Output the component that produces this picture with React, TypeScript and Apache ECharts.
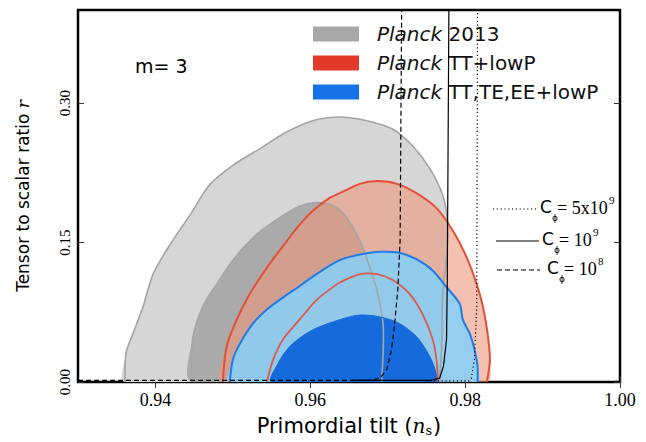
import React, { useEffect, useRef } from 'react';
import * as echarts from 'echarts';

// ---------- data ----------
const xTickValues = [0.94, 0.96, 0.98, 1.0];
const yTickValues = [0, 0.15, 0.3];
const legendNames = ['Planck 2013', 'Planck TT+lowP', 'Planck TT,TE,EE+lowP'];
const legendColors = ['#a7a7a7', '#e2392a', '#1673ea'];

// contours: [n_s, r]
const planck2013Outer = [
  [0.9361, 0], [0.9362, 0.031], [0.9371, 0.052], [0.9384, 0.081], [0.9397, 0.116], [0.9419, 0.148],
  [0.9445, 0.18], [0.947, 0.212], [0.95, 0.233], [0.9535, 0.251], [0.957, 0.269], [0.9603, 0.281],
  [0.9638, 0.285], [0.9673, 0.281], [0.9706, 0.272], [0.9732, 0.254], [0.9754, 0.23], [0.9771, 0.201],
  [0.9777, 0.173], [0.9776, 0.134], [0.9771, 0.095], [0.977, 0.046], [0.9767, 0],
];
const planck2013Inner = [
  [0.9447, 0], [0.9448, 0.046], [0.9461, 0.081], [0.9479, 0.105], [0.95, 0.131], [0.9531, 0.159],
  [0.9561, 0.177], [0.9586, 0.189], [0.9608, 0.193], [0.9629, 0.19], [0.9647, 0.177], [0.9664, 0.152],
  [0.9677, 0.123], [0.9687, 0.095], [0.9694, 0.063], [0.9694, 0.031], [0.9692, 0],
];
const ttOuter = [
  [0.9487, 0], [0.9492, 0.038], [0.9505, 0.067], [0.9522, 0.095], [0.9544, 0.123], [0.957, 0.152],
  [0.9586, 0.169], [0.9603, 0.184], [0.9625, 0.198], [0.9638, 0.203], [0.9664, 0.213], [0.9686, 0.216],
  [0.9712, 0.213], [0.9737, 0.203], [0.9763, 0.187], [0.9784, 0.163], [0.9802, 0.134], [0.9815, 0.105],
  [0.9823, 0.081], [0.9829, 0.052], [0.9832, 0.024], [0.9828, 0],
];
const ttInner = [
  [0.9544, 0], [0.9552, 0.024], [0.9565, 0.046], [0.9586, 0.067], [0.9608, 0.088], [0.9629, 0.102],
  [0.9638, 0.107], [0.9664, 0.116], [0.9686, 0.116], [0.9706, 0.11], [0.9728, 0.095], [0.9745, 0.073],
  [0.9758, 0.046], [0.9763, 0.024], [0.9765, 0],
];
const allOuter = [
  [0.9496, 0], [0.95, 0.024], [0.9509, 0.041], [0.9526, 0.063], [0.9544, 0.078], [0.9565, 0.091],
  [0.9586, 0.103], [0.9608, 0.116], [0.9638, 0.131], [0.9664, 0.137], [0.969, 0.14], [0.9715, 0.139],
  [0.9737, 0.132], [0.9758, 0.12], [0.9776, 0.102], [0.9793, 0.084], [0.9797, 0.067], [0.9806, 0.052],
  [0.9812, 0.035], [0.9816, 0.017], [0.9816, 0],
];
const allInner = [
  [0.955, 0], [0.9561, 0.024], [0.9577, 0.041], [0.9603, 0.056], [0.9638, 0.067], [0.9664, 0.072],
  [0.969, 0.07], [0.9715, 0.063], [0.9737, 0.049], [0.9752, 0.031], [0.9761, 0.014], [0.9763, 0],
];

// model curves
const cphi1e8 = [
  [0.93, 0.0018], [0.9675, 0.0018], [0.969, 0.004], [0.9699, 0.014], [0.9705, 0.035], [0.9709, 0.063],
  [0.9713, 0.099], [0.9716, 0.152], [0.9718, 0.4],
];
const cphi1e9 = [
  [0.9655, 0.0018], [0.9755, 0.0018], [0.9767, 0.004], [0.9772, 0.017], [0.9776, 0.046], [0.9777, 0.116],
  [0.9779, 0.4],
];
const cphi5e9 = [
  [0.975, 0.0012], [0.9805, 0.0012], [0.9808, 0.004], [0.9812, 0.024], [0.9815, 0.081], [0.9816, 0.4],
];

// ---------- helpers ----------
function contour(name: string, pts: number[][], mode: 'fill' | 'edge', color: string, lw = 1.5, legendColor = '#000') {
  return {
    type: 'custom',
    name,
    data: pts,
    clip: true,
    silent: true,
    encode: { x: 0, y: 1 },
    itemStyle: { color: legendColor },
    renderItem: (params: any, api: any) => {
      if (params.dataIndex !== 0) return null;
      const points = pts.map((p) => api.coord(p));
      if (mode === 'fill') {
        return { type: 'polygon', shape: { points, smooth: 0.3 }, style: { fill: color, stroke: 'none' } };
      }
      return { type: 'polyline', shape: { points, smooth: 0.3 }, style: { fill: 'none', stroke: color, lineWidth: lw } };
    },
  };
}

function curve(pts: number[][], type: any, width: number) {
  return {
    type: 'line',
    data: pts,
    showSymbol: false,
    silent: true,
    clip: true,
    z: 5,
    lineStyle: { color: '#000', width, type },
  };
}

const serif = 'Liberation Serif';
const sans = 'DejaVu Sans';

function annot(y: number, lineType: any, lx1: number, lx2: number, cx: number, rest: string, supText: string, sup: string) {
  const restX = cx + 17;
  return [
    { type: 'line', shape: { x1: lx1, y1: y + 2, x2: lx2, y2: y + 2 }, style: { stroke: '#000', lineWidth: 1.1, lineDash: lineType } },
    { type: 'text', x: cx, y: y, style: { text: 'C', font: `17px "${sans}"`, fill: '#000', verticalAlign: 'middle', align: 'left' } },
    { type: 'text', x: cx + 12, y: y + 11, style: { text: 'ϕ', font: `9px "${sans}"`, fill: '#000', verticalAlign: 'middle', align: 'left' } },
    { type: 'text', x: restX, y: y + 1, style: { text: rest, font: `18px "${serif}"`, fill: '#000', verticalAlign: 'middle', align: 'left' } },
    { type: 'text', x: supText === 'a' ? restX + 52 : restX + 34, y: y - 7, style: { text: sup, font: `11px "${serif}"`, fill: '#000', verticalAlign: 'middle', align: 'left' } },
  ];
}

export default function App() {
  const ref = useRef<HTMLDivElement>(null);
  useEffect(() => {
    document.body.style.margin = '0';
    const chart = echarts.init(ref.current!, undefined, { renderer: 'svg' });
    const tickStyle = { show: true, inside: true, length: 6, lineStyle: { color: '#333', width: 1 } };
    const option: any = {
      animation: false,
      backgroundColor: '#fff',
      grid: { left: 78, right: 26, top: 10, bottom: 56, show: true, borderColor: '#000', borderWidth: 2.5, backgroundColor: 'transparent' },
      legend: {
        orient: 'vertical',
        left: 313,
        top: 24,
        padding: 0,
        itemGap: 9,
        itemWidth: 46,
        itemHeight: 15,
        icon: 'rect',
        selectedMode: false,
        data: legendNames.map((n, i) => ({ name: n, itemStyle: { color: legendColors[i], borderWidth: 0 } })),
        formatter: (name: string) => `{i|Planck}{n|${name.replace('Planck', '')}}`,
        textStyle: {
          rich: {
            i: { fontFamily: sans, fontSize: 20, fontStyle: 'italic', color: '#111', padding: [0, 0, 0, 13] },
            n: { fontFamily: sans, fontSize: 20, color: '#111' },
          },
        },
      },
      xAxis: [
        {
          type: 'value', min: 0.93, max: 1.0, position: 'bottom',
          axisLine: { show: false }, splitLine: { show: false },
          axisTick: { ...tickStyle, customValues: xTickValues },
          axisLabel: { customValues: xTickValues, formatter: (v: number) => v.toFixed(2), fontFamily: serif, fontSize: 18, color: '#000', margin: 9 },
          name: '{a|Primordial tilt (}{n|n}{s|s}{a|)}',
          nameLocation: 'middle',
          nameGap: 33,
          nameTextStyle: {
            rich: {
              a: { fontFamily: sans, fontSize: 21, color: '#000' },
              n: { fontFamily: 'DejaVu Serif', fontStyle: 'italic', fontSize: 20, color: '#000' },
              s: { fontFamily: 'DejaVu Serif', fontSize: 13, color: '#000', padding: [9, 1, 0, 0] },
            },
          },
        },
        {
          type: 'value', min: 0.93, max: 1.0, position: 'top',
          axisLine: { show: false }, splitLine: { show: false },
          axisTick: { ...tickStyle, customValues: xTickValues },
          axisLabel: { show: false },
        },
      ],
      yAxis: [
        {
          type: 'value', min: 0, max: 0.4, position: 'left',
          axisLine: { show: false }, splitLine: { show: false },
          axisTick: { ...tickStyle, customValues: yTickValues },
          axisLabel: { customValues: yTickValues, rotate: 90, formatter: (v: number) => v.toFixed(2), fontFamily: serif, fontSize: 15, color: '#000', margin: 6 },
          name: '{a|Tensor to scalar ratio }{r|r}',
          nameLocation: 'middle',
          nameGap: 47,
          nameTextStyle: {
            rich: {
              a: { fontFamily: sans, fontSize: 17, color: '#000' },
              r: { fontFamily: 'DejaVu Serif', fontStyle: 'italic', fontSize: 17, color: '#000' },
            },
          },
        },
        {
          type: 'value', min: 0, max: 0.4, position: 'right',
          axisLine: { show: false }, splitLine: { show: false },
          axisTick: { ...tickStyle, customValues: yTickValues },
          axisLabel: { show: false },
        },
      ],
      series: [
        contour(legendNames[0], planck2013Outer, 'fill', '#d6d6d6', 0, legendColors[0]),
        contour(legendNames[0], planck2013Inner, 'fill', '#aaaaaa', 0, legendColors[0]),
        contour(legendNames[1], ttOuter, 'fill', 'rgba(237,150,124,0.6)', 0, legendColors[1]),
        contour(legendNames[1], ttInner, 'fill', 'rgba(237,150,124,0.45)', 0, legendColors[1]),
        contour(legendNames[2], allOuter, 'fill', 'rgba(133,209,248,0.86)', 0, legendColors[2]),
        contour(legendNames[2], allInner, 'fill', 'rgba(18,102,218,0.97)', 0, legendColors[2]),
        contour(legendNames[0], planck2013Outer, 'edge', '#a4a4a4', 1.6, legendColors[0]),
        contour(legendNames[0], planck2013Inner, 'edge', '#a6a6a6', 1.6, legendColors[0]),
        contour(legendNames[1], ttOuter, 'edge', '#e2503a', 2, legendColors[1]),
        contour(legendNames[1], ttInner, 'edge', '#d95a4e', 1.8, legendColors[1]),
        contour(legendNames[2], allOuter, 'edge', '#1f7be8', 2, legendColors[2]),
        contour(legendNames[2], allInner, 'edge', '#1a69d8', 1, legendColors[2]),
        curve(cphi1e8, [5, 3], 1.2),
        curve(cphi1e9, 'solid', 1.2),
        curve(cphi5e9, [1.2, 2.6], 1.2),
      ],
      graphic: [
        { type: 'text', x: 135, y: 66, style: { text: 'm= 3', font: `19px "${sans}"`, fill: '#000', verticalAlign: 'middle' } },
        ...annot(207, [1.2, 2.6], 493, 538, 540, '= 5x10', 'a', '9'),
        ...annot(239, null, 496, 539, 542, '= 10', 'b', '9'),
        ...annot(268, [5, 3], 497, 540, 547, '= 10', 'b', '8'),
      ],
    };
    chart.setOption(option);
    return () => chart.dispose();
  }, []);
  return <div ref={ref} style={{ width: 646, height: 442 }} />;
}
